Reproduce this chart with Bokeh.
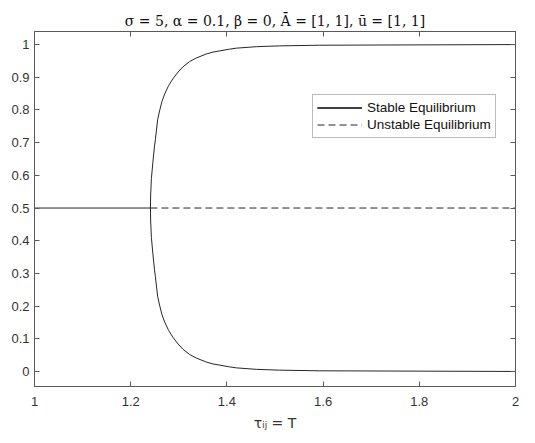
from bokeh.plotting import figure
from bokeh.models import Range1d, LinearAxis, Legend, LegendItem, FixedTicker
from bokeh.embed import file_html
from bokeh.resources import INLINE

# ---- data ----
title_text = "σ = 5, α = 0.1, β = 0, Ā = [1, 1], ū = [1, 1]"
x_label = "τᵢⱼ = T"
x_ticks = [1, 1.2, 1.4, 1.6, 1.8, 2]
y_ticks = [0, 0.1, 0.2, 0.3, 0.4, 0.5, 0.6, 0.7, 0.8, 0.9, 1]

# stable equilibrium before the bifurcation
pre_x = [1.0, 1.241]
pre_y = [0.5, 0.5]

# stable upper branch
upper_x = [1.241, 1.2415, 1.243, 1.246, 1.2495, 1.2513, 1.256, 1.260, 1.265, 1.2706, 1.279,
           1.288, 1.2986, 1.3086, 1.3225, 1.3364, 1.357, 1.371, 1.4056, 1.4195, 1.461,
           1.509, 1.592, 2.0]
upper_y = [0.5, 0.54, 0.59, 0.638, 0.69, 0.709, 0.77, 0.797, 0.826, 0.849, 0.875,
           0.896, 0.916, 0.932, 0.948, 0.959, 0.971, 0.977, 0.986, 0.989, 0.9935,
           0.996, 0.998, 1.0]

# stable lower branch
lower_x = [1.241, 1.2415, 1.243, 1.246, 1.2495, 1.2513, 1.256, 1.260, 1.265, 1.2706, 1.279,
           1.288, 1.2986, 1.3086, 1.3225, 1.3364, 1.357, 1.371, 1.4056, 1.4195, 1.461,
           1.509, 1.592, 2.0]
lower_y = [0.5, 0.46, 0.41, 0.362, 0.311, 0.29, 0.23, 0.203, 0.174, 0.151, 0.125,
           0.104, 0.084, 0.068, 0.052, 0.041, 0.029, 0.023, 0.014, 0.011, 0.0065,
           0.004, 0.002, 0.0]

# unstable equilibrium
unstable_x = [1.241, 2.0]
unstable_y = [0.5, 0.5]

AXIS_COLOR = "#5a5a5a"
TEXT_COLOR = "#333333"
LINE_COLOR = "#262626"

p = figure(
    width=526, height=434,
    x_range=Range1d(1, 2), y_range=Range1d(-0.046, 1.04),
    output_backend="svg", toolbar_location=None,
    min_border_left=34, min_border_right=11, min_border_top=31, min_border_bottom=48,
    title=title_text,
)
p.title.align = "center"
p.title.text_font = "DejaVu Serif"
p.title.text_font_size = "14px"
p.title.text_font_style = "normal"
p.title.text_color = "#111111"
p.title.standoff = 6

p.xgrid.visible = False
p.ygrid.visible = False
p.outline_line_color = AXIS_COLOR
p.outline_line_width = 1
p.background_fill_color = "white"
p.border_fill_color = "white"

for ax in (p.xaxis[0], p.yaxis[0]):
    ax.axis_line_color = AXIS_COLOR
    ax.major_tick_line_color = AXIS_COLOR
    ax.major_tick_in = 5
    ax.major_tick_out = 0
    ax.minor_tick_line_color = None
    ax.major_label_text_font = "Liberation Sans"
    ax.major_label_text_font_size = "13px"
    ax.major_label_text_color = TEXT_COLOR

p.xaxis[0].ticker = FixedTicker(ticks=x_ticks)
p.yaxis[0].ticker = FixedTicker(ticks=y_ticks)
p.xaxis[0].major_label_overrides = {1: "1", 2: "2"}
p.yaxis[0].major_label_overrides = {0: "0", 1: "1"}
p.xaxis[0].major_label_standoff = 10
p.yaxis[0].major_label_standoff = 5
p.xaxis[0].axis_label = x_label
p.xaxis[0].axis_label_text_font = "DejaVu Sans"
p.xaxis[0].axis_label_text_font_size = "14px"
p.xaxis[0].axis_label_text_font_style = "normal"
p.xaxis[0].axis_label_text_color = TEXT_COLOR
p.xaxis[0].axis_label_standoff = 6

# box ticks on top and right (no labels)
top_ax = LinearAxis(ticker=FixedTicker(ticks=x_ticks))
right_ax = LinearAxis(ticker=FixedTicker(ticks=y_ticks))
top_ax.major_label_overrides = {t: "" for t in x_ticks}
right_ax.major_label_overrides = {t: "" for t in y_ticks}
for ax in (top_ax, right_ax):
    ax.axis_line_color = AXIS_COLOR
    ax.major_tick_line_color = AXIS_COLOR
    ax.major_tick_in = 5
    ax.major_tick_out = 0
    ax.minor_tick_line_color = None
    ax.major_label_standoff = 0
p.add_layout(top_ax, "above")
p.add_layout(right_ax, "right")

r_pre = p.line(pre_x, pre_y, line_color=LINE_COLOR, line_width=1)
r_up = p.line(upper_x, upper_y, line_color=LINE_COLOR, line_width=1)
r_lo = p.line(lower_x, lower_y, line_color=LINE_COLOR, line_width=1)
r_un = p.line(unstable_x, unstable_y, line_color=LINE_COLOR, line_width=1, line_dash="7 4")

legend = Legend(
    items=[
        LegendItem(label="Stable Equilibrium", renderers=[r_pre, r_up, r_lo]),
        LegendItem(label="Unstable Equilibrium", renderers=[r_un]),
    ],
    location=(278, 248),
    label_text_font="Liberation Sans",
    label_text_font_size="13.5px",
    label_text_color="#111111",
    glyph_width=45,
    glyph_height=17,
    label_height=17,
    label_standoff=5,
    padding=4,
    spacing=0,
    margin=0,
    border_line_color="#7a7a7a",
    border_line_width=1,
    background_fill_color="white",
    background_fill_alpha=1,
)
p.add_layout(legend, "center")

open("out.html", "w").write(file_html(p, INLINE))
